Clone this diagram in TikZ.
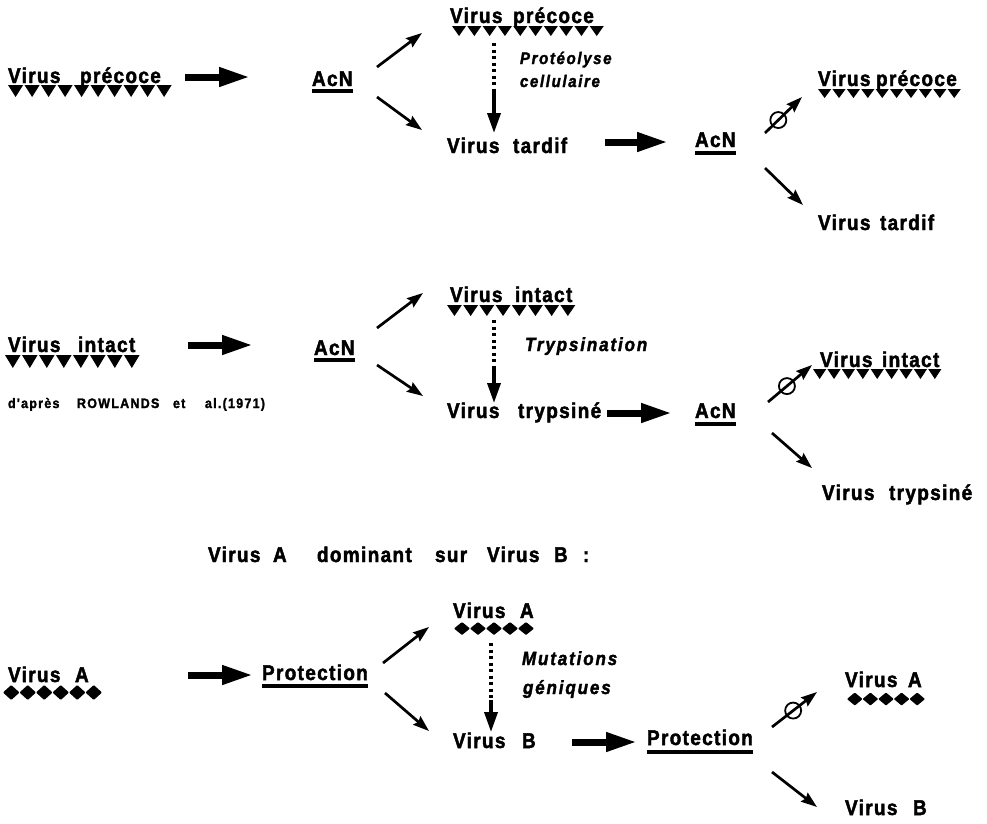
\documentclass[tikz,border=0pt]{standalone}
\usepackage{fontspec}
\usepackage{graphicx}
\usetikzlibrary{arrows.meta}
\newfontfamily\labfont{Liberation Sans}[LetterSpace=7,FakeBold=2.2]
\newfontfamily\itfont{Liberation Sans}[LetterSpace=11,FakeBold=2]
\newfontfamily\smfont{Liberation Sans}[LetterSpace=10,FakeBold=1.8]
\newcommand\trirow[5]{\foreach \i in {1,...,#3}{\fill ({#1+(\i-1)*#4},#2) -- ++({#4*0.92},0) -- ++({-#4*0.46},#5) -- cycle;}}
\newcommand\dmrow[5]{\foreach \i in {1,...,#3}{\fill[rounded corners=0.8pt] ({#1+(\i-1)*#4},#2) -- ++({#4/2},{-#5/2}) -- ++({#4/2},{#5/2}) -- ++({-#4/2},{#5/2}) -- cycle;}}
\tikzset{
  lbl/.style={anchor=base west, inner sep=0pt, outer sep=0pt, yscale=1.12, font={\labfont\bfseries\fontsize{19pt}{19pt}\selectfont}},
  itl/.style={anchor=base west, inner sep=0pt, outer sep=0pt, yscale=1.12, font={\itfont\bfseries\itshape\fontsize{#1}{#1}\selectfont}},
  sml/.style={anchor=base west, inner sep=0pt, outer sep=0pt, yscale=1.1, font={\smfont\bfseries\fontsize{12.5pt}{12.5pt}\selectfont}},
  thinarrow/.style={line width=2.7pt, -{Stealth[length=16pt,width=11pt,inset=2pt]}},
  bigarrow/.style={line width=7pt, -{Triangle[length=31pt,width=18pt]}},
  dotline/.style={line width=3.4pt, dash pattern=on 3pt off 3.5pt},
  downarrow/.style={line width=3.6pt, -{Triangle[length=20pt,width=13pt]}},
  uline/.style={line width=3.8pt},
  nullsym/.style={circle, draw, line width=1.8pt, minimum size=16pt, inner sep=0pt}
}
\begin{document}
\begin{tikzpicture}[x=1pt,y=-1pt]
\path[fill=white,use as bounding box] (0,0) rectangle (987,823);

% ---------- top ----------
\node[lbl] (vp1) at (8,83) {\makebox[72pt][l]{Virus}précoce};
\trirow{8}{85}{10}{16.5}{12}
\node[lbl] (acn1) at (312,86) {AcN};
\draw[uline] ([shift={(0,5)}]acn1.base west) -- ([shift={(0,5)}]acn1.base east);
\node[lbl] (vp2) at (450,23) {\makebox[63pt][l]{Virus}précoce};
\trirow{452}{26}{10}{15.3}{10}
\node[itl=15pt] (prot) at (520,64) {Protéolyse};
\node[itl=15pt] (cell) at (520,87) {cellulaire};
\node[lbl] (vt1) at (447,153) {\makebox[66pt][l]{Virus}tardif};
\node[lbl] (acn2) at (695,147) {AcN};
\draw[uline] ([shift={(0,6)}]acn2.base west) -- ([shift={(0,6)}]acn2.base east);
\node[lbl] (vp3) at (818,86) {\makebox[58pt][l]{Virus}précoce};
\trirow{818}{89}{10}{14.4}{9}
\node[lbl] (vt2) at (818,230) {\makebox[62pt][l]{Virus}tardif};

\draw[bigarrow] ([shift={(177,-6)}]vp1.base west) -- ([shift={(-62,-9)}]acn1.base west);
\draw[thinarrow] ([shift={(65,-19)}]acn1.base west) -- ([shift={(-28,10)}]vp2.base west);
\draw[thinarrow] ([shift={(65,11)}]acn1.base west) -- ([shift={(-25,-23)}]vt1.base west);
\coordinate (m1) at ([shift={(44,67)}]vp2.base west);
\draw[dotline] ([shift={(44,20)}]vp2.base west) -- (m1);
\draw[downarrow] (m1) -- ([shift={(47,-20)}]vt1.base west);
\draw[bigarrow] ([shift={(158,-11)}]vt1.base west) -- ([shift={(-27,-5)}]acn2.base west);
\draw[thinarrow] ([shift={(70,-14)}]acn2.base west) -- node[nullsym,pos=0.36] (n1) {} ([shift={(-16,11)}]vp3.base west);
\draw[thinarrow] ([shift={(70,21)}]acn2.base west) -- ([shift={(-15,-25)}]vt2.base west);

% ---------- middle ----------
\node[lbl] (vi1) at (8,352) {\makebox[70pt][l]{Virus}intact};
\trirow{5}{355}{8}{17}{13}
\node[sml] (dap) at (8,408) {\makebox[69pt][l]{d'après}\makebox[96pt][l]{ROWLANDS}\makebox[32pt][l]{et}al.(1971)};
\node[lbl] (acn3) at (314,355) {AcN};
\draw[uline] ([shift={(0,5)}]acn3.base west) -- ([shift={(0,5)}]acn3.base east);
\node[lbl] (vi2) at (450,302) {\makebox[65pt][l]{Virus}intact};
\trirow{447}{305}{8}{16.2}{11}
\node[itl=17pt] (tryp) at (525,351) {Trypsination};
\node[lbl] (vtr1) at (447,418) {\makebox[71pt][l]{Virus}trypsiné};
\node[lbl] (acn4) at (695,418) {AcN};
\draw[uline] ([shift={(0,6)}]acn4.base west) -- ([shift={(0,6)}]acn4.base east);
\node[lbl] (vi3) at (820,367) {\makebox[62pt][l]{Virus}intact};
\trirow{813}{369}{9}{14.4}{10}
\node[lbl] (vtr2) at (822,500) {\makebox[67pt][l]{Virus}trypsiné};

\draw[bigarrow] ([shift={(180,-7)}]vi1.base west) -- ([shift={(-61,-10)}]acn3.base west);
\draw[thinarrow] ([shift={(63,-27)}]acn3.base west) -- ([shift={(-27,-9)}]vi2.base west);
\draw[thinarrow] ([shift={(63,10)}]acn3.base west) -- ([shift={(-24,-22)}]vtr1.base west);
\coordinate (m2) at ([shift={(44,65)}]vi2.base west);
\draw[dotline] ([shift={(44,18)}]vi2.base west) -- (m2);
\draw[downarrow] (m2) -- ([shift={(47,-15)}]vtr1.base west);
\draw[bigarrow] ([shift={(160,-5)}]vtr1.base west) -- ([shift={(-23,-5)}]acn4.base west);
\draw[thinarrow] ([shift={(73,-16)}]acn4.base west) -- node[nullsym,pos=0.43] (n2) {} ([shift={(-8,-2)}]vi3.base west);
\draw[thinarrow] ([shift={(77,15)}]acn4.base west) -- ([shift={(-10,-32)}]vtr2.base west);

% ---------- bottom ----------
\node[lbl] (title) at (208,562) {\makebox[109pt][l]{\makebox[65pt][l]{Virus}A}\makebox[118pt][l]{dominant}\makebox[52pt][l]{sur}\makebox[67pt][l]{Virus}\makebox[29pt][l]{B}:};
\node[lbl] (va1) at (8,682) {\makebox[67pt][l]{Virus}A};
\dmrow{3}{692.5}{6}{16.5}{15}
\node[lbl] (prot1) at (262,680) {Protection};
\draw[uline] ([shift={(0,6)}]prot1.base west) -- ([shift={(0,6)}]prot1.base east);
\node[lbl] (va2) at (453,618) {\makebox[67pt][l]{Virus}A};
\dmrow{454}{628.5}{5}{16}{13}
\node[itl=17pt] (mut) at (522,665) {Mutations};
\node[itl=17pt] (gen) at (523,694) {géniques};
\node[lbl] (vb1) at (453,748) {\makebox[69pt][l]{Virus}B};
\node[lbl] (prot2) at (647,745) {Protection};
\draw[uline] ([shift={(0,7)}]prot2.base west) -- ([shift={(0,7)}]prot2.base east);
\node[lbl] (va3) at (845,687) {\makebox[63pt][l]{Virus}A};
\dmrow{847}{699}{5}{15.6}{13}
\node[lbl] (vb2) at (845,815) {\makebox[68pt][l]{Virus}B};

\draw[bigarrow] ([shift={(180,-7)}]va1.base west) -- ([shift={(-9,-5)}]prot1.base west);
\draw[thinarrow] ([shift={(121,-17)}]prot1.base west) -- ([shift={(-24,9)}]va2.base west);
\draw[thinarrow] ([shift={(123,13)}]prot1.base west) -- ([shift={(-24,-17)}]vb1.base west);
\coordinate (m3) at ([shift={(38,82)}]va2.base west);
\draw[dotline] ([shift={(38,25)}]va2.base west) -- (m3);
\draw[downarrow] (m3) -- ([shift={(38,-16)}]vb1.base west);
\draw[bigarrow] ([shift={(119,-6)}]vb1.base west) -- ([shift={(-10,-3)}]prot2.base west);
\draw[thinarrow] ([shift={(125,-18)}]prot2.base west) -- node[nullsym,pos=0.47] (n3) {} ([shift={(-28,5)}]va3.base west);
\draw[thinarrow] ([shift={(125,27)}]prot2.base west) -- ([shift={(-28,-8)}]vb2.base west);
\end{tikzpicture}
\end{document}
